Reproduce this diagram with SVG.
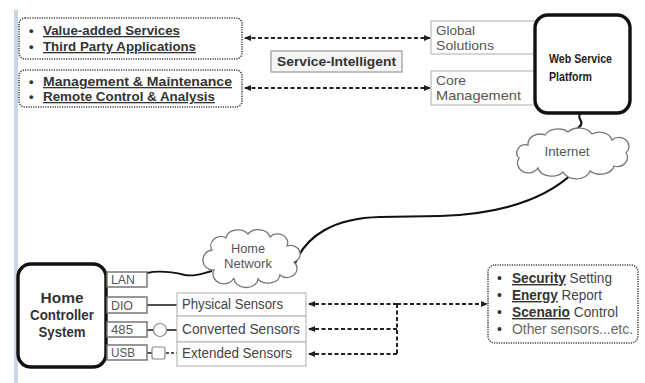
<svg xmlns="http://www.w3.org/2000/svg" width="645" height="383" viewBox="0 0 645 383">
<style>
.t{font-family:"Liberation Sans",Arial,sans-serif;}
.b{font-weight:bold;fill:#333;font-size:13px;}
.r{fill:#555;font-size:13px;}
.dot{fill:#fff;stroke:#444;stroke-width:1.6;stroke-dasharray:1.2 1.2;}
.thick{fill:#fff;stroke:#111;stroke-width:3.4;}
.lbox{fill:#fff;stroke:#bbb;stroke-width:1.2;}
.port{fill:#fff;stroke:#777;stroke-width:1.5;}
.dash{fill:none;stroke:#222;stroke-width:2;stroke-dasharray:4 2.5;}
.cloud{fill:#fff;stroke:#777;stroke-width:1.3;}
.wire{fill:none;stroke:#111;stroke-width:2.2;}
.u{text-decoration:underline;}
</style>
<defs>
<marker id="ah" markerWidth="7" markerHeight="6" refX="6" refY="3" orient="auto-start-reverse" markerUnits="userSpaceOnUse">
<path d="M0,0 L7,3 L0,6 Z" fill="#222"/>
</marker>
</defs>
<rect x="0" y="0" width="645" height="383" fill="#fff"/>
<rect x="14" y="10" width="4" height="373" fill="#c9d4e4"/>

<g id="connectors">
<line class="dash" x1="245" y1="38" x2="430" y2="38" marker-start="url(#ah)" marker-end="url(#ah)"/>
<line class="dash" x1="245" y1="88" x2="430" y2="88" marker-start="url(#ah)" marker-end="url(#ah)"/>
<path class="wire" d="M581 113 C575 118 586 122 579 127 C576 130 578 131 578 133"/>
<path class="wire" d="M574 172 C545 200 500 214 440 216 L380 217 C335 218 305 235 294 266"/>
<path class="wire" style="stroke-width:1.8" d="M147 273 C160 270 172 272 185 275 C195 277 203 273 212 271"/>
<line x1="147" y1="305" x2="177" y2="305" stroke="#222" stroke-width="1.6"/>
<line x1="147" y1="330" x2="154" y2="330" stroke="#222" stroke-width="1.6"/>
<circle cx="160" cy="330" r="6.5" fill="#fff" stroke="#888" stroke-width="1.2"/>
<line x1="167" y1="330" x2="177" y2="330" stroke="#222" stroke-width="1.6"/>
<line x1="147" y1="353" x2="152" y2="353" stroke="#222" stroke-width="1.6"/>
<rect x="152" y="347" width="13" height="12" rx="2" fill="#fff" stroke="#888" stroke-width="1.2"/>
<line x1="166" y1="353" x2="177" y2="353" stroke="#222" stroke-width="1.6" stroke-dasharray="3 2"/>
<line class="dash" x1="397" y1="304" x2="309" y2="304" marker-end="url(#ah)"/>
<line class="dash" x1="397" y1="329" x2="309" y2="329" marker-end="url(#ah)"/>
<line class="dash" x1="397" y1="354" x2="309" y2="354" marker-end="url(#ah)"/>
<line class="dash" x1="397" y1="304" x2="397" y2="354"/>
<line class="dash" x1="397" y1="304" x2="487" y2="304" marker-end="url(#ah)"/>
</g>

<g id="services-box">
<rect class="dot" x="19" y="18" width="223" height="41" rx="6"/>
<text class="t b" x="29" y="35">•</text>
<text class="t b u" x="43" y="35" textLength="137" lengthAdjust="spacingAndGlyphs">Value-added Services</text>
<text class="t b" x="29" y="51">•</text>
<text class="t b u" x="43" y="51" textLength="153" lengthAdjust="spacingAndGlyphs">Third Party Applications</text>
</g>

<g id="management-box">
<rect class="dot" x="19" y="70" width="223" height="37" rx="6"/>
<text class="t b" x="29" y="86">•</text>
<text class="t b u" x="43" y="86" textLength="189" lengthAdjust="spacingAndGlyphs">Management &amp; Maintenance</text>
<text class="t b" x="29" y="101">•</text>
<text class="t b u" x="43" y="101" textLength="172" lengthAdjust="spacingAndGlyphs">Remote Control &amp; Analysis</text>
</g>

<g id="service-intelligent">
<rect x="271" y="51" width="131" height="21" fill="#f5f5f5" stroke="#999" stroke-width="1.2"/>
<text class="t b" x="336.5" y="66" text-anchor="middle" fill="#444" textLength="119" lengthAdjust="spacingAndGlyphs">Service-Intelligent</text>
</g>

<g id="global-solutions">
<rect class="lbox" x="431" y="21" width="110" height="33"/>
<text class="t r" x="436" y="35" textLength="39" lengthAdjust="spacingAndGlyphs">Global</text>
<text class="t r" x="436" y="50" textLength="58" lengthAdjust="spacingAndGlyphs">Solutions</text>
</g>

<g id="core-management">
<rect class="lbox" x="431" y="71" width="110" height="34"/>
<text class="t r" x="436" y="85" textLength="30" lengthAdjust="spacingAndGlyphs">Core</text>
<text class="t r" x="436" y="100" textLength="85" lengthAdjust="spacingAndGlyphs">Management</text>
</g>

<g id="web-service-platform">
<rect class="thick" x="535" y="15" width="95" height="98" rx="13"/>
<text class="t" x="549" y="63" font-size="13" font-weight="bold" fill="#222" textLength="63" lengthAdjust="spacingAndGlyphs">Web Service</text>
<text class="t" x="549" y="81" font-size="13" font-weight="bold" fill="#222" textLength="43" lengthAdjust="spacingAndGlyphs">Platform</text>
</g>

<g id="internet">
<path class="cloud" d="M528 145 A12 10 0 0 1 545 135 A14 10 0 0 1 568 132 A14 10 0 0 1 592 134 A13 10 0 0 1 612 140 A10 9 0 0 1 626 153 A10 9 0 0 1 614 166 A14 10 0 0 1 590 171 A14 10 0 0 1 563 172 A14 10 0 0 1 538 168 A10 9 0 0 1 519 158 A9 8 0 0 1 528 145 Z"/>
<text class="t" x="567" y="156" font-size="13" fill="#555" text-anchor="middle" textLength="45" lengthAdjust="spacingAndGlyphs">Internet</text>
</g>

<g id="home-network">
<path class="cloud" d="M212 250 A10 9 0 0 1 226 238 A12 9 0 0 1 248 234 A12 9 0 0 1 270 237 A10 9 0 0 1 287 246 A9 8 0 0 1 294 262 A10 9 0 0 1 280 275 A12 9 0 0 1 258 279 A12 9 0 0 1 234 278 A10 9 0 0 1 214 270 A8 8 0 0 1 212 250 Z"/>
<text class="t" x="248" y="253" font-size="12.5" fill="#555" text-anchor="middle" textLength="34" lengthAdjust="spacingAndGlyphs">Home</text>
<text class="t" x="248" y="268" font-size="12.5" fill="#555" text-anchor="middle" textLength="48" lengthAdjust="spacingAndGlyphs">Network</text>
</g>

<g id="home-controller">
<rect class="thick" x="18" y="264" width="88" height="103" rx="13"/>
<text class="t" x="62" y="303" font-size="14" font-weight="bold" fill="#333" text-anchor="middle" textLength="43" lengthAdjust="spacingAndGlyphs">Home</text>
<text class="t" x="62" y="320" font-size="14" font-weight="bold" fill="#333" text-anchor="middle" textLength="64" lengthAdjust="spacingAndGlyphs">Controller</text>
<text class="t" x="62" y="337" font-size="14" font-weight="bold" fill="#333" text-anchor="middle" textLength="47" lengthAdjust="spacingAndGlyphs">System</text>
</g>

<g id="port-lan">
<rect class="port" x="107" y="272" width="40" height="15"/>
<text class="t" x="111" y="284" font-size="12" fill="#555" textLength="24" lengthAdjust="spacingAndGlyphs">LAN</text>
</g>
<g id="port-dio">
<rect class="port" x="107" y="297" width="40" height="16"/>
<text class="t" x="111" y="310" font-size="12" fill="#555" textLength="22" lengthAdjust="spacingAndGlyphs">DIO</text>
</g>
<g id="port-485">
<rect class="port" x="107" y="322" width="40" height="15"/>
<text class="t" x="111" y="334" font-size="12" fill="#555" textLength="22" lengthAdjust="spacingAndGlyphs">485</text>
</g>
<g id="port-usb">
<rect class="port" x="107" y="345" width="40" height="15"/>
<text class="t" x="111" y="357" font-size="12" fill="#555" textLength="24" lengthAdjust="spacingAndGlyphs">USB</text>
</g>

<g id="physical-sensors">
<rect class="lbox" x="177" y="293" width="129" height="23"/>
<text class="t" x="182" y="309" font-size="14" fill="#444" textLength="101" lengthAdjust="spacingAndGlyphs">Physical Sensors</text>
</g>
<g id="converted-sensors">
<rect class="lbox" x="177" y="316" width="129" height="26"/>
<text class="t" x="182" y="334" font-size="14" fill="#444" textLength="118" lengthAdjust="spacingAndGlyphs">Converted Sensors</text>
</g>
<g id="extended-sensors">
<rect class="lbox" x="177" y="342" width="129" height="24"/>
<text class="t" x="182" y="358" font-size="14" fill="#444" textLength="110" lengthAdjust="spacingAndGlyphs">Extended Sensors</text>
</g>

<g id="applications-box">
<rect class="dot" x="488" y="265" width="150" height="78" rx="7"/>
<text class="t" x="497" y="283" font-size="14" fill="#333">•</text>
<text class="t" x="512" y="283" font-size="14" fill="#444" textLength="100" lengthAdjust="spacingAndGlyphs"><tspan font-weight="bold" fill="#333" class="u">Security</tspan> Setting</text>
<text class="t" x="497" y="300" font-size="14" fill="#333">•</text>
<text class="t" x="512" y="300" font-size="14" fill="#444" textLength="90" lengthAdjust="spacingAndGlyphs"><tspan font-weight="bold" fill="#333" class="u">Energy</tspan> Report</text>
<text class="t" x="497" y="317" font-size="14" fill="#333">•</text>
<text class="t" x="512" y="317" font-size="14" fill="#444" textLength="106" lengthAdjust="spacingAndGlyphs"><tspan font-weight="bold" fill="#333" class="u">Scenario</tspan> Control</text>
<text class="t" x="497" y="334" font-size="14" fill="#333">•</text>
<text class="t" x="512" y="334" font-size="14" fill="#666" textLength="121" lengthAdjust="spacingAndGlyphs">Other sensors...etc.</text>
</g>
</svg>
